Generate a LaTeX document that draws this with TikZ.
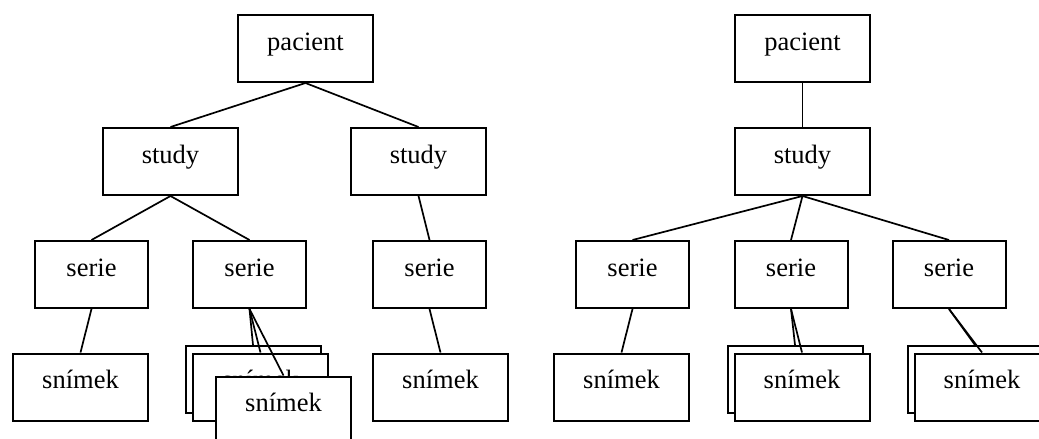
\documentclass[tikz,border=0pt]{standalone}
\usepackage{fontspec}
\setmainfont{Liberation Serif}
\begin{document}
\begin{tikzpicture}[x=1pt,y=-1pt,
  box/.style={draw, fill=white, line width=2pt, inner sep=0pt,
    minimum width=135pt, minimum height=67pt,
    font=\fontsize{26.5}{30}\selectfont, text height=12pt, text depth=9pt},
  seriebox/.style={box, minimum width=113pt},
  link/.style={line width=1.7pt}]
\useasboundingbox (0,0) rectangle (1039,439);
\clip (0,0) rectangle (1039,439);

% left tree: one patient with two studies
\node[box] (lp)  at (305.5,48.5)  {pacient};
\node[box] (ls1) at (170.5,161.5) {study};
\node[box] (ls2) at (418.5,161.5) {study};
\node[seriebox] (lr1) at (91.5,274.5)  {serie};
\node[seriebox] (lr2) at (249.5,274.5) {serie};
\node[seriebox] (lr3) at (429.5,274.5) {serie};
\node[box] (li1) at (80.5,387)  {snímek};
\node[box] (lia) at (253,379.5) {snímek};
\node[box] (lib) at (260.5,387) {snímek};
\node[box] (lic) at (283.5,410) {snímek};
\node[box] (li3) at (440.5,387) {snímek};

% right tree: one patient, one study, three series
\node[box] (rp) at (802.5,48.5)  {pacient};
\node[box] (rs) at (802.5,161.5) {study};
\node[seriebox] (rr1) at (632.5,274.5) {serie};
\node[seriebox] (rr2) at (791,274.5)   {serie};
\node[seriebox] (rr3) at (949,274.5)   {serie};
\node[box] (ri1) at (621.5,387) {snímek};
\node[box] (rba) at (795,379.5) {snímek};
\node[box] (rbb) at (802,387)   {snímek};
\node[box] (rca) at (975,379.5) {snímek};
\node[box] (rcb) at (982,387)   {snímek};

% connectors
\draw[link] (lp.south) -- (ls1.north);
\draw[link] (lp.south) -- (ls2.north);
\draw[link] (ls1.south) -- (lr1.north);
\draw[link] (ls1.south) -- (lr2.north);
\draw[link] (ls2.south) -- (lr3.north);
\draw[link] (lr1.south) -- (li1.north);
\draw[link] (lr2.south) -- (lia.north);
\draw[link] (lr2.south) -- (lib.north);
\draw[link] (lr2.south) -- (lic.north);
\draw[link] (lr3.south) -- (li3.north);

\draw[link] (rp.south) -- (rs.north);
\draw[link] (rs.south) -- (rr1.north);
\draw[link] (rs.south) -- (rr2.north);
\draw[link] (rs.south) -- (rr3.north);
\draw[link] (rr1.south) -- (ri1.north);
\draw[link] (rr2.south) -- (rba.north);
\draw[link] (rr2.south) -- (rbb.north);
\draw[link] (rr3.south) -- (rca.north);
\draw[link] (rr3.south) -- (rcb.north);
\end{tikzpicture}
\end{document}
